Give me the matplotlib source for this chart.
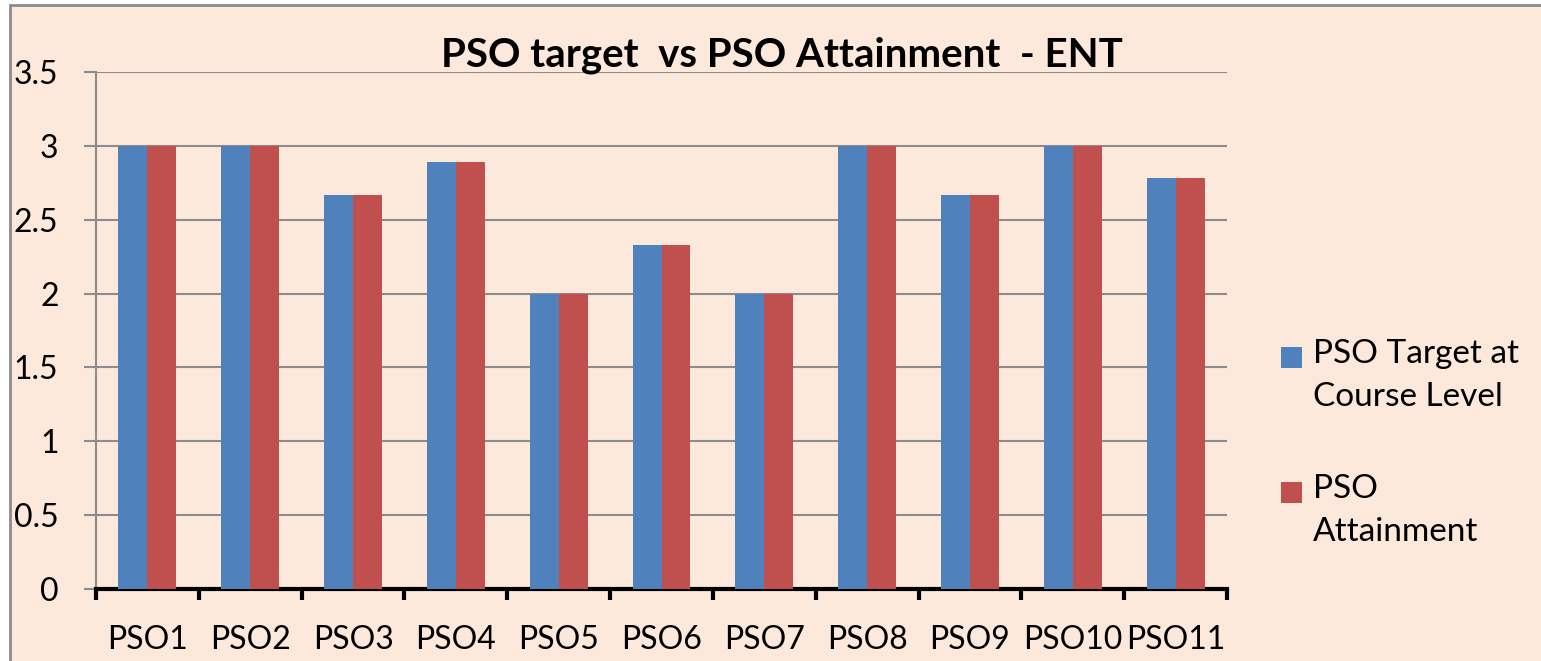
import numpy as np
import matplotlib
matplotlib.use("Agg")
import matplotlib.pyplot as plt
from matplotlib.patches import Rectangle

# data
categories = ["PSO1", "PSO2", "PSO3", "PSO4", "PSO5", "PSO6",
              "PSO7", "PSO8", "PSO9", "PSO10", "PSO11"]
target = [3, 3, 2.67, 2.89, 2, 2.33, 2, 3, 2.67, 3, 2.78]
attainment = [3, 3, 2.67, 2.89, 2, 2.33, 2, 3, 2.67, 3, 2.78]
series_names = ["PSO Target at\nCourse Level", "PSO\nAttainment"]
yticks = [0, 0.5, 1, 1.5, 2, 2.5, 3, 3.5]
ytick_labels = ["0", "0.5", "1", "1.5", "2", "2.5", "3", "3.5"]

BLUE = "#4F81BD"
RED = "#C0504D"
BG = "#FDE9DB"
GRID = "#8C8C8C"

plt.rcParams['font.family'] = ['Lato', 'DejaVu Sans']

W, H = 1541, 661
fig = plt.figure(figsize=(W / 100, H / 100), dpi=100)
fig.patch.set_facecolor("white")

# chart-area frame (runs off the right and bottom edges)
frame = Rectangle((10 / W, -0.05), 1.05, 1 - 5 / H + 0.05, transform=fig.transFigure,
                  facecolor=BG, edgecolor=GRID, linewidth=2, zorder=-10)
fig.patches.append(frame)

ax = fig.add_axes([96 / W, 72 / H, (1227 - 96) / W, (589 - 72) / H])
ax.set_facecolor("none")

x = np.arange(len(categories))
bw = 0.282
ax.bar(x - bw / 2, target, bw, color=BLUE, zorder=3)
ax.bar(x + bw / 2, attainment, bw, color=RED, zorder=3)

ax.set_xlim(-0.5, len(categories) - 0.5)
ax.set_ylim(0, 3.5)
ax.set_yticks(yticks)
ax.set_yticklabels(ytick_labels, fontsize=23)
ax.yaxis.grid(True, color=GRID, linewidth=1.5, zorder=1)
ax.set_axisbelow(True)

ax.set_xticks(x)
ax.set_xticklabels(categories, fontsize=23)
ax.set_xticks(np.arange(-0.5, len(categories), 1), minor=True)
ax.tick_params(axis='x', which='major', length=0, pad=26)
ax.tick_params(axis='x', which='minor', length=8, width=3, color='black', direction='out')
ax.tick_params(axis='y', length=9, width=1.5, color=GRID, pad=18)

for s in ['top', 'right']:
    ax.spines[s].set_visible(False)
ax.spines['left'].set_color(GRID)
ax.spines['left'].set_linewidth(1.5)
ax.spines['bottom'].set_color('black')
ax.spines['bottom'].set_linewidth(3)

fig.text(782 / W, 1 - 55 / H, "PSO target  vs PSO Attainment  - ENT",
         fontsize=29, fontweight='bold', ha='center', va='center')

# legend, drawn by hand so the swatch lines up with the first text line
colors = [BLUE, RED]
first_line_y = [357, 492]
for name, c, yy in zip(series_names, colors, first_line_y):
    fig.patches.append(Rectangle((1281 / W, 1 - (yy + 10.5) / H), 21 / W, 21 / H,
                                 transform=fig.transFigure, facecolor=c, edgecolor='none'))
    fig.text(1313 / W, 1 - (yy - 18) / H, name, fontsize=24, ha='left', va='top',
             linespacing=1.55)

fig.savefig("out.png", dpi=100, facecolor=fig.get_facecolor())
